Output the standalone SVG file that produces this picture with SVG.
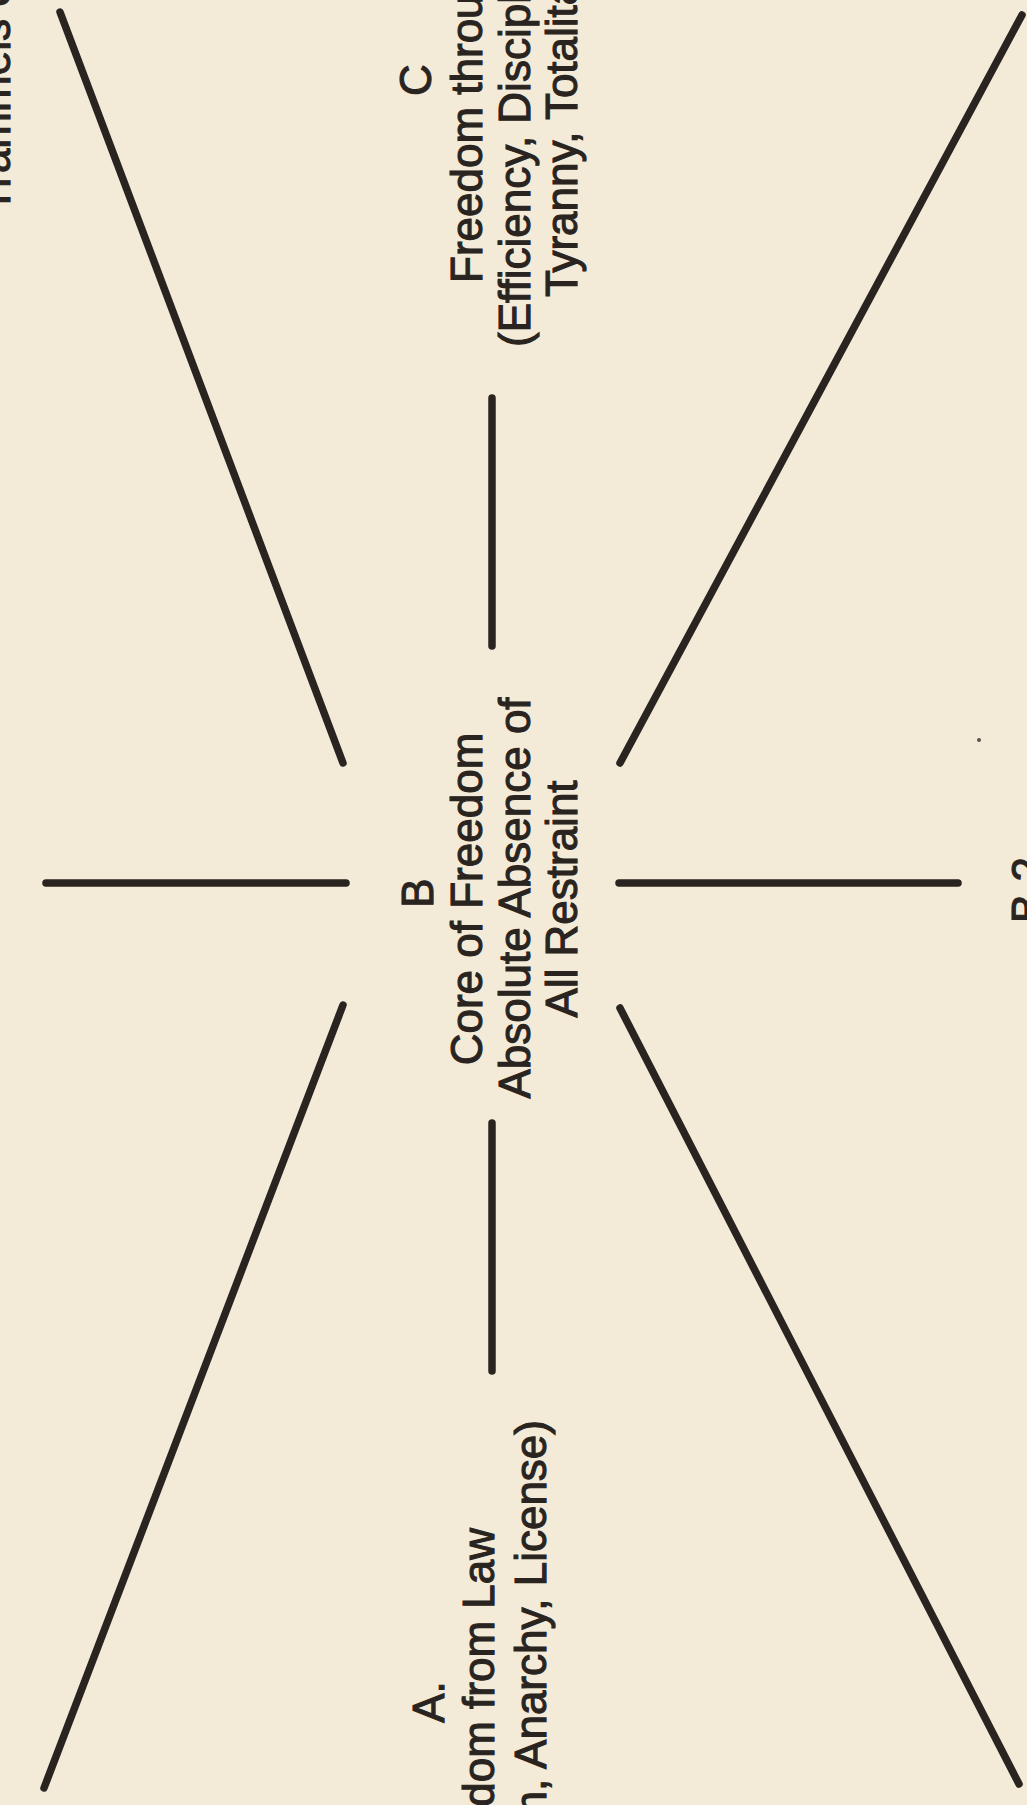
<svg xmlns="http://www.w3.org/2000/svg" width="1027" height="1805" viewBox="0 0 1027 1805">
<style>
.bg{fill:#F3EBD7}
.ln{stroke:#2A2421;stroke-width:7.5;stroke-linecap:round;fill:none}
.t{font-family:"Liberation Sans","DejaVu Sans",sans-serif;font-size:44px;fill:#2A2421;stroke:#2A2421;stroke-width:1.1}
.m{text-anchor:middle}
.e{text-anchor:end}
</style>
<rect class="bg" x="0" y="0" width="1027" height="1805"/>
<g id="connectors">
<line class="ln" x1="60" y1="12" x2="343" y2="763"/>
<line class="ln" x1="1022" y1="15" x2="620" y2="763"/>
<line class="ln" x1="343" y1="1005" x2="44" y2="1788"/>
<line class="ln" x1="620" y1="1008" x2="1019" y2="1784"/>
<line class="ln" x1="46" y1="883" x2="346" y2="883"/>
<line class="ln" x1="619" y1="883" x2="958" y2="883"/>
<line class="ln" x1="492" y1="398" x2="492" y2="646"/>
<line class="ln" x1="492" y1="1123" x2="492" y2="1371"/>
</g>
<g id="node-trammels">
<text class="t" transform="translate(10,213) rotate(-90)">Trammels of</text>
</g>
<g id="node-C">
<text class="t m" transform="translate(431,80) rotate(-90)">C</text>
<text class="t" transform="translate(482,283) rotate(-90)">Freedom throu</text>
<text class="t" transform="translate(530,347) rotate(-90)">(Efficiency, Discipli</text>
<text class="t" transform="translate(577,297) rotate(-90)">Tyranny, Totalita</text>
</g>
<g id="node-B">
<text class="t m" transform="translate(433,893) rotate(-90)">B</text>
<text class="t m" transform="translate(482,899) rotate(-90)">Core of Freedom</text>
<text class="t m" transform="translate(530,898) rotate(-90)">Absolute Absence of</text>
<text class="t m" transform="translate(577,899) rotate(-90)">All Restraint</text>
</g>
<g id="node-A">
<text class="t m" transform="translate(444,1702) rotate(-90)">A.</text>
<text class="t e" transform="translate(494,1528) rotate(-90)">dom from Law</text>
<text class="t e" transform="translate(546,1420) rotate(-90)">m, Anarchy, License)</text>
</g>
<g id="node-B2">
<text class="t m" transform="translate(1043,890) rotate(-90)">B 2</text>
</g>
<circle cx="979" cy="740" r="2" fill="#5A524C"/>
</svg>
